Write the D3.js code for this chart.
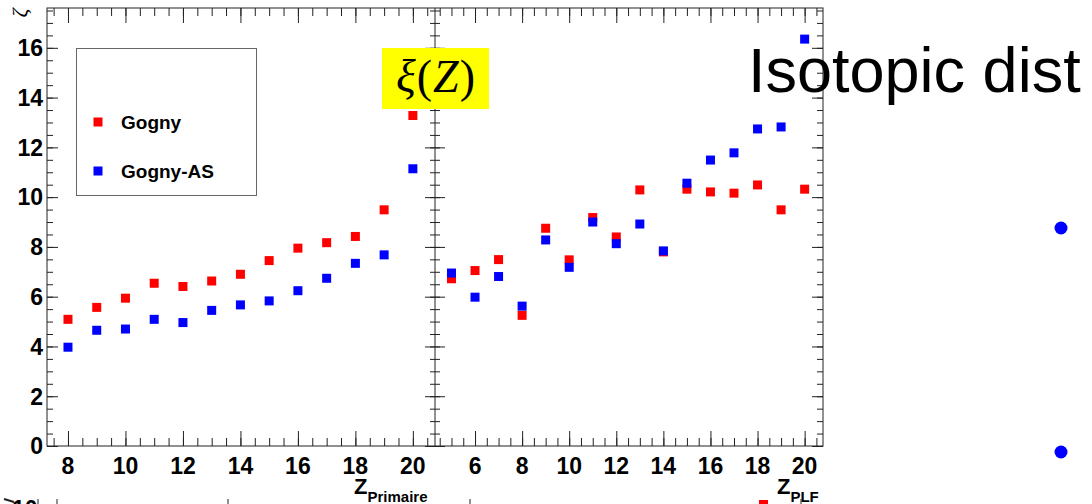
<!DOCTYPE html>
<html><head><meta charset="utf-8">
<script src="https://cdn.jsdelivr.net/npm/d3@7"></script>
<style>body{margin:0;background:#fff;overflow:hidden}svg{display:block}</style>
</head><body><svg id="c" width="1092" height="504"></svg>
<script>
// ---- data ----
const zPrimaire = [8,9,10,11,12,13,14,15,16,17,18,19,20];
const goguyPrim = [5.09,5.57,5.94,6.54,6.41,6.63,6.90,7.45,7.95,8.17,8.42,9.49,13.28];
const gognyASPrim = [3.97,4.65,4.70,5.09,4.96,5.45,5.67,5.83,6.24,6.74,7.34,7.68,11.14];
const zPLF = [5,6,7,8,9,10,11,12,13,14,15,16,17,18,19,20];
const gognyPLF = [6.72,7.05,7.49,5.25,8.75,7.48,9.18,8.40,10.29,7.80,10.32,10.21,10.16,10.49,9.49,10.32];
const gognyASPLF = [6.95,5.98,6.81,5.62,8.28,7.18,9.00,8.13,8.92,7.84,10.56,11.49,11.78,12.74,12.82,16.35];
const yTicks = [0,2,4,6,8,10,12,14,16];
const xTicksPrim = [8,10,12,14,16,18,20];
const xTicksPLF = [6,8,10,12,14,16,18,20];
const legendLabels = ["Gogny","Gogny-AS"];

const svg = d3.select("#c");
const F = "'Liberation Sans', Arial, sans-serif";
const ink = "#222";

const y = d3.scaleLinear().domain([0,17.6]).range([446,8]);
const xL = d3.scaleLinear().domain([7.27,20.77]).range([47,435]);
const xR = d3.scaleLinear().domain([4.3,20.78]).range([435,823]);

function minorVals(dom, step){ const a=[]; for(let v=Math.ceil(dom[0]/step)*step; v<=dom[1]+1e-9; v+=step) a.push(+v.toFixed(3)); return a; }

function drawTicks(g, axisFn, scale, vals, size){
  const a = axisFn(scale).tickValues(vals).tickSize(size).tickFormat("").tickSizeOuter(0);
  g.call(a);
  g.select(".domain").remove();
  g.selectAll("line").attr("stroke", ink).attr("stroke-width",1);
}
function panelX(scale, majors){
  const mins = minorVals(scale.domain(),0.5);
  drawTicks(svg.append("g").attr("transform","translate(0,446)"), d3.axisBottom, scale, mins, -8);
  drawTicks(svg.append("g").attr("transform","translate(0,446)"), d3.axisBottom, scale, majors, -15);
  drawTicks(svg.append("g").attr("transform","translate(0,8)"), d3.axisTop, scale, mins, -8);
  drawTicks(svg.append("g").attr("transform","translate(0,8)"), d3.axisTop, scale, majors, -15);
  svg.append("g").selectAll("text").data(majors).join("text")
    .attr("x", d=>scale(d)).attr("y", 474).attr("text-anchor","middle")
    .attr("font-family",F).attr("font-weight","bold").attr("font-size",23).text(d=>d);
}
panelX(xL, xTicksPrim);
panelX(xR, xTicksPLF);

const yMin = minorVals(y.domain(),0.5);
function yTicksAt(x, fn, sMaj, sMin){
  drawTicks(svg.append("g").attr("transform",`translate(${x},0)`), fn, y, yMin, sMin);
  drawTicks(svg.append("g").attr("transform",`translate(${x},0)`), fn, y, yTicks, sMaj);
}
yTicksAt(47, d3.axisLeft, -11, -6);
yTicksAt(435, d3.axisRight, -10, -5);
yTicksAt(435, d3.axisLeft, -10, -5);
yTicksAt(823, d3.axisRight, -11, -6);

svg.append("g").selectAll("text").data(yTicks).join("text")
  .attr("x",43).attr("y",d=>y(d)).attr("dy","0.36em").attr("text-anchor","end")
  .attr("font-family",F).attr("font-weight","bold").attr("font-size",23).text(d=>d);

// frames
svg.append("rect").attr("x",47).attr("y",8).attr("width",776).attr("height",438)
  .attr("fill","none").attr("stroke",ink).attr("stroke-width",1);
svg.append("line").attr("x1",435).attr("x2",435).attr("y1",8).attr("y2",446).attr("stroke",ink);

// markers
const S = 9;
function squares(xs, vals, scale, color){
  svg.append("g").selectAll("rect").data(xs.map((d,i)=>[d,vals[i]])).join("rect")
    .attr("x",d=>scale(d[0])-S/2).attr("y",d=>y(d[1])-S/2).attr("width",S).attr("height",S).attr("fill",color);
}
squares(zPrimaire, goguyPrim, xL, "#ff0000");
squares(zPrimaire, gognyASPrim, xL, "#0000ff");
squares(zPLF, gognyPLF, xR, "#ff0000");
squares(zPLF, gognyASPLF, xR, "#0000ff");

// axis titles
function ztitle(x, sub){
  const t = svg.append("text").attr("x",x).attr("y",494).attr("font-family",F).attr("font-weight","bold");
  t.append("tspan").attr("font-size",22).text("Z");
  t.append("tspan").attr("font-size",15).attr("dy",8).text(sub);
}
ztitle(354, "Primaire");
ztitle(777, "PLF");
svg.append("text").attr("transform","translate(27,13) rotate(-90)").attr("text-anchor","middle")
  .attr("font-family","'Liberation Serif', serif").attr("font-style","italic").attr("font-size",22).text("ζ");

// legend
svg.append("rect").attr("x",76.5).attr("y",48.5).attr("width",180).attr("height",147)
  .attr("fill","#fff").attr("stroke","#666").attr("stroke-width",1);
const legColors = ["#ff0000","#0000ff"];
const legY = [122,171];
legendLabels.forEach((l,i)=>{
  svg.append("rect").attr("x",98-S/2).attr("y",legY[i]-S/2).attr("width",S).attr("height",S).attr("fill",legColors[i]);
  svg.append("text").attr("x",121).attr("y",legY[i]).attr("dy","0.36em").attr("font-family",F)
    .attr("font-weight","bold").attr("font-size",19).text(l);
});

// title box
svg.append("rect").attr("x",382).attr("y",48).attr("width",107).attr("height",61).attr("fill","#ffff00");
const tt = svg.append("text").attr("x",436).attr("y",92).attr("text-anchor","middle")
  .attr("font-family","'Liberation Serif', 'Times New Roman', serif").attr("font-size",46).attr("letter-spacing",1);
tt.append("tspan").attr("font-style","italic").text("ξ");
tt.append("tspan").text("(");
tt.append("tspan").attr("font-style","italic").text("Z");
tt.append("tspan").text(")");

// slide text
svg.append("text").attr("x",748).attr("y",92).attr("font-family",F).attr("font-size",63).text("Isotopic dist");
svg.append("circle").attr("cx",1061).attr("cy",228).attr("r",6.5).attr("fill","#0000ff");
svg.append("circle").attr("cx",1061).attr("cy",452).attr("r",6.5).attr("fill","#0000ff");

// fragments of the next chart below
svg.append("rect").attr("x",759).attr("y",500).attr("width",9).attr("height",9).attr("fill","#ff0000");
[38,57,228,470,801].forEach(x=>svg.append("line").attr("x1",x).attr("x2",x).attr("y1",499).attr("y2",504).attr("stroke",ink));
svg.append("text").attr("x",12).attr("y",517).attr("font-family",F).attr("font-weight","bold").attr("font-size",23).text("10");
svg.append("line").attr("x1",4).attr("x2",14).attr("y1",499).attr("y2",502).attr("stroke",ink).attr("stroke-width",2);
</script></body></html>
